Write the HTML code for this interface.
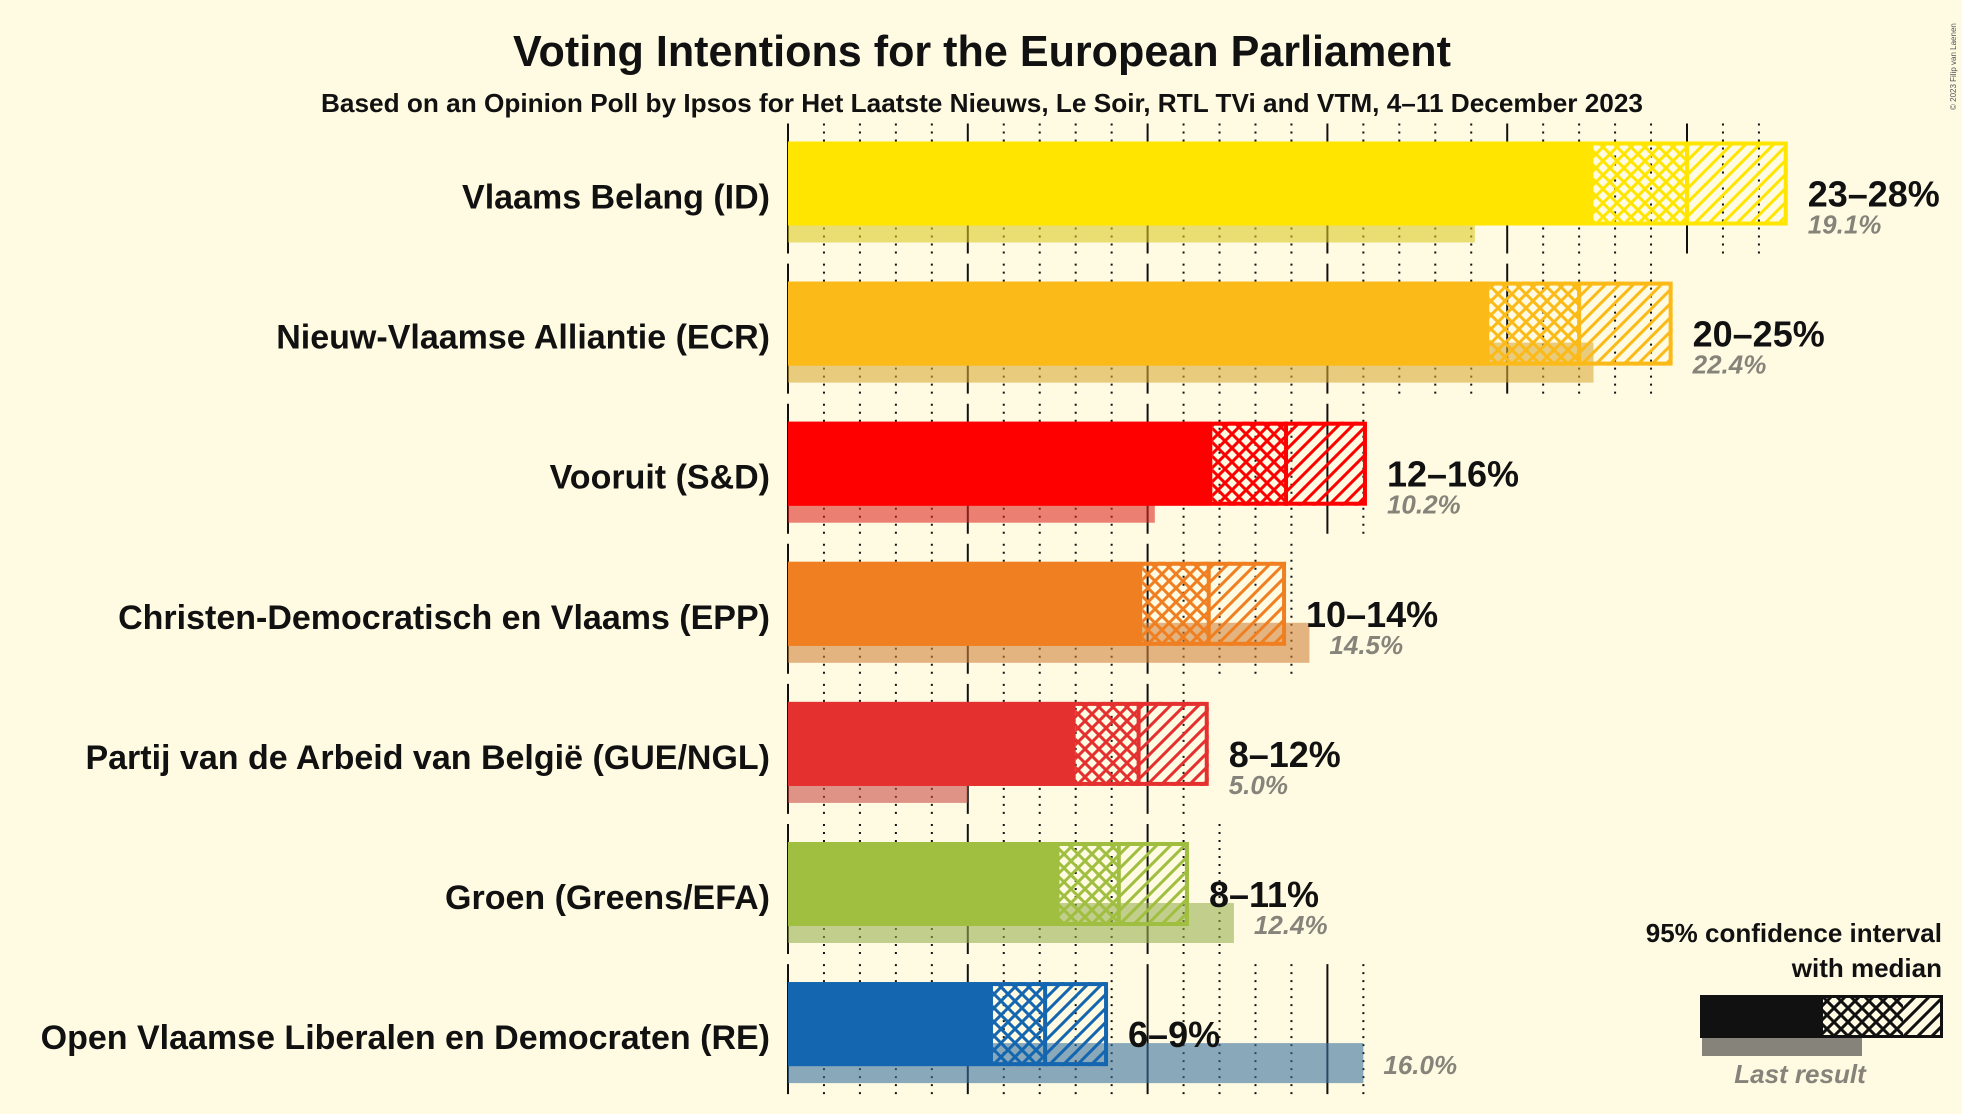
<!DOCTYPE html>
<html><head><meta charset="utf-8">
<style>
html,body{margin:0;padding:0;background:#FFFBE3;}
svg{display:block;font-family:"Liberation Sans",sans-serif;}
</style></head>
<body>
<svg id="chart" width="1962" height="1114" viewBox="0 0 1962 1114" xmlns="http://www.w3.org/2000/svg">
<rect width="1962" height="1114" fill="#FFFBE3"/>
<defs id="defs"></defs>
<text x="982" y="66" text-anchor="middle" font-size="44" font-weight="bold" fill="#111" textLength="938" lengthAdjust="spacingAndGlyphs">Voting Intentions for the European Parliament</text>
<text x="982" y="112" text-anchor="middle" font-size="26" font-weight="bold" fill="#111" textLength="1322" lengthAdjust="spacingAndGlyphs">Based on an Opinion Poll by Ipsos for Het Laatste Nieuws, Le Soir, RTL TVi and VTM, 4–11 December 2023</text>
<text transform="translate(1956,110) rotate(-90)" font-size="8" fill="#555">© 2023 Filip van Laenen</text>
<g id="grid"></g>
<g id="bars"></g>
<g id="legend">
  <text x="1942" y="942" text-anchor="end" font-size="26" font-weight="bold" fill="#111">95% confidence interval</text>
  <text x="1942" y="977" text-anchor="end" font-size="26" font-weight="bold" fill="#111">with median</text>
  <rect x="1702" y="1036" width="160" height="20" fill="#86847A"/>
  <rect x="1700" y="995" width="123" height="43" fill="#111"/>
  <rect x="1823" y="995" width="80" height="43" fill="url(#cross-legend)"/>
  <rect x="1903" y="995" width="40" height="43" fill="url(#diag-legend)"/>
  <rect x="1701.5" y="996.5" width="240" height="40" fill="none" stroke="#111" stroke-width="3"/>
  <text x="1800" y="1083" text-anchor="middle" font-size="26" font-style="italic" font-weight="bold" fill="#86847A">Last result</text>
</g>
</svg>
<script>
const parties = ["Vlaams Belang (ID)","Nieuw-Vlaamse Alliantie (ECR)","Vooruit (S&D)","Christen-Democratisch en Vlaams (EPP)","Partij van de Arbeid van België (GUE/NGL)","Groen (Greens/EFA)","Open Vlaamse Liberalen en Democraten (RE)"];
const lows = [22.4, 19.5, 11.8, 9.85, 8.0, 7.55, 5.7];
const medians = [25.0, 22.0, 13.85, 11.7, 9.75, 9.2, 7.15];
const highs = [27.8, 24.6, 16.1, 13.85, 11.7, 11.15, 8.9];
const lastResults = [19.1, 22.4, 10.2, 14.5, 5.0, 12.4, 16.0];
const rangeLabels = ["23–28%","20–25%","12–16%","10–14%","8–12%","8–11%","6–9%"];
const lastLabels = ["19.1%","22.4%","10.2%","14.5%","5.0%","12.4%","16.0%"];
const colors = ["#FFE500","#FBBA18","#FF0000","#F07F21","#E53030","#A0BF40","#1466B0"];

const NS = "http://www.w3.org/2000/svg";
const X0 = 788, PX = 35.96;
function x(v){ return X0 + v*PX; }
function rowTop(i){ return 141.5 + i*140.1; }
const BH = 84;

function mk(tag, attrs, parent){
  const e = document.createElementNS(NS, tag);
  for (const k in attrs) e.setAttribute(k, attrs[k]);
  parent.appendChild(e);
  return e;
}
const defs = document.getElementById('defs');
function patterns(id, c){
  const p1 = mk('pattern',{id:'cross-'+id,width:14,height:14,patternUnits:'userSpaceOnUse'},defs);
  mk('path',{d:'M-2,2 L2,-2 M0,14 L14,0 M12,16 L16,12 M-2,12 L2,16 M0,0 L14,14 M12,-2 L16,2',stroke:c,'stroke-width':3},p1);
  const p2 = mk('pattern',{id:'diag-'+id,width:14,height:14,patternUnits:'userSpaceOnUse'},defs);
  mk('path',{d:'M-2,2 L2,-2 M0,14 L14,0 M12,16 L16,12',stroke:c,'stroke-width':3},p2);
}
patterns('legend','#111');

const grid = document.getElementById('grid');
const bars = document.getElementById('bars');
parties.forEach((name,i)=>{
  const c = colors[i];
  patterns('p'+i, c);
  const t = rowTop(i);
  const maxV = Math.floor(Math.max(highs[i], lastResults[i]));
  for (let v=0; v<=maxV; v++){
    const major = v%5===0;
    const ln = mk('line',{x1:x(v),x2:x(v),y1:t-18,y2:t+112,stroke:'#111','stroke-width':2,'stroke-dasharray':major?'none':'2,6'},grid);
    
    
  }
  const g = mk('g',{},bars);
  
  
  const lab = mk('text',{x:770,y:t+67,'text-anchor':'end','font-size':34,'font-weight':'bold',fill:'#111'},g);
  lab.textContent = name;
  
  
  const lr = mk('rect',{x:x(0),y:t+61,width:x(lastResults[i])-x(0),height:40,fill:c,'fill-opacity':0.5},g);
  
  
  const lr2 = mk('rect',{x:x(0),y:t+61,width:x(lastResults[i])-x(0),height:40,fill:'#8A8878','fill-opacity':0.18},g);
  
  
  const s = mk('rect',{x:x(0),y:t,width:x(lows[i])-x(0),height:BH,fill:c},g);
  
  
  const cr = mk('rect',{x:x(lows[i]),y:t,width:x(medians[i])-x(lows[i]),height:BH,fill:'url(#cross-p'+i+')'},g);
  
  
  const dg = mk('rect',{x:x(medians[i]),y:t,width:x(highs[i])-x(medians[i]),height:BH,fill:'url(#diag-p'+i+')'},g);
  
  
  const ol = mk('rect',{x:x(0)+2,y:t+2,width:x(highs[i])-x(0)-4,height:BH-4,fill:'none',stroke:c,'stroke-width':4},g);
  
  
  const ml = mk('line',{x1:x(medians[i]),x2:x(medians[i]),y1:t,y2:t+BH,stroke:c,'stroke-width':4},g);
  
  
  const rl = mk('text',{x:x(highs[i])+20,y:t+65,'font-size':36,'font-weight':'bold',fill:'#111'},g);
  rl.textContent = rangeLabels[i];
  
  
  const ll = mk('text',{x:x(Math.max(highs[i],lastResults[i]))+20,y:t+92,'font-size':26,'font-style':'italic','font-weight':'bold',fill:'#86847A'},g);
  ll.textContent = lastLabels[i];
  
  
});
</script>
</body></html>
